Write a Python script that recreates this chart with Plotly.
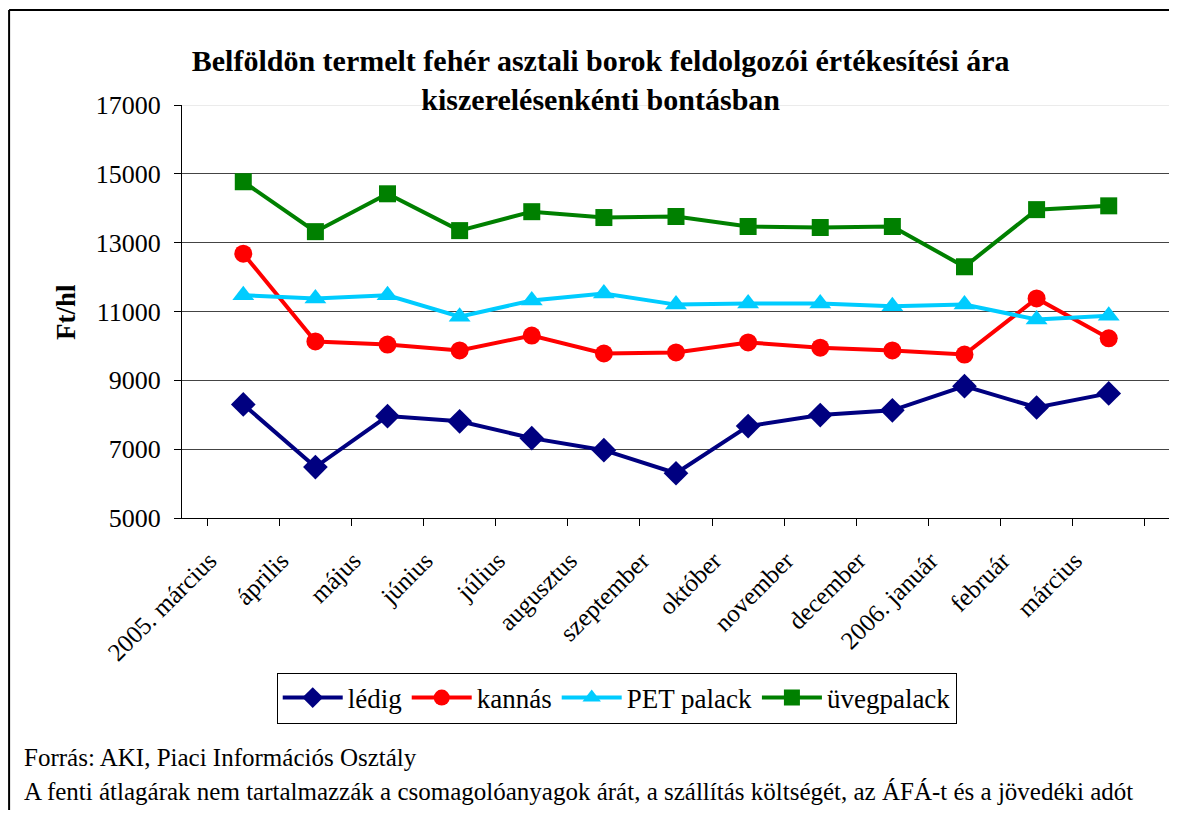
import plotly.graph_objects as go

# havi kategóriák
honapok = ["2005. március", "április", "május", "június", "július", "augusztus",
           "szeptember", "október", "november", "december", "2006. január",
           "február", "március"]

# Ft/hl értékek kiszerelésenként
ledig = [8300, 6480, 7960, 7810, 7320, 6970, 6300, 7670, 7990, 8130, 8830, 8210, 8620]
kannas = [12680, 10130, 10040, 9870, 10300, 9780, 9810, 10100, 9950, 9870, 9750, 11380, 10220]
pet_palack = [11470, 11380, 11470, 10850, 11320, 11520, 11200, 11230, 11230, 11150, 11200, 10770, 10880]
uvegpalack = [14770, 13320, 14420, 13350, 13900, 13730, 13760, 13470, 13440, 13470, 12300, 13960, 14070]

y_ticks = [5000, 7000, 9000, 11000, 13000, 15000, 17000]

series = [
    ("lédig", ledig, "#000080", "diamond", 19),
    ("kannás", kannas, "#FF0000", "circle", 18),
    ("PET palack", pet_palack, "#00CCFF", "triangle-up", 19),
    ("üvegpalack", uvegpalack, "#008000", "square", 17),
]

fig = go.Figure()
for name, vals, color, symbol, size in series:
    fig.add_trace(go.Scatter(
        x=honapok, y=vals, name=name, mode="lines+markers",
        line=dict(color=color, width=4),
        marker=dict(color=color, symbol=symbol, size=size),
    ))

serif = "Liberation Serif"

# the page body has an 8px margin, so the figure is shifted by 8px
fig.update_layout(
    width=1169, height=802,
    margin=dict(l=174, r=7, t=97, b=292),
    paper_bgcolor="white", plot_bgcolor="white",
    font=dict(family=serif, color="black", size=24),
    title=dict(
        text="<b>Belföldön termelt fehér asztali borok feldolgozói értékesítési ára<br>kiszerelésenkénti bontásban</b>",
        x=0.507, xanchor="center", y=0.921, yanchor="middle",
        font=dict(family=serif, size=30),
    ),
    showlegend=True,
    legend=dict(
        orientation="h", x=0.44, xanchor="center", y=-0.436, yanchor="middle",
        bordercolor="black", borderwidth=1, font=dict(family=serif, size=27),
        itemwidth=60,
    ),
    xaxis=dict(
        type="category", showgrid=False, showline=True, linecolor="black",
        ticks="outside", tickson="boundaries", ticklen=7, tickcolor="black",
        tickangle=-45, tickfont=dict(family=serif, size=25), automargin=False,
        ticklabelshift=-34, ticklabelstandoff=17,
    ),
    yaxis=dict(
        range=[5000, 17000], tickvals=y_ticks, tickformat="d", showgrid=True,
        gridcolor="#444444", gridwidth=1, showline=True, linecolor="black",
        ticks="outside", ticklen=7, tickcolor="black",
        tickfont=dict(family=serif, size=26), zeroline=False, automargin=False,
        ticklabelstandoff=8,
    ),
    annotations=[
        dict(text="<b>Ft/hl</b>", xref="paper", yref="paper", x=-0.118, y=0.5,
             textangle=-90, showarrow=False, xanchor="center", yanchor="middle",
             font=dict(family=serif, size=27)),
        dict(text="Forrás: AKI, Piaci Információs Osztály", xref="paper", yref="paper",
             x=-0.162, y=-0.579, xanchor="left", yanchor="middle", showarrow=False,
             font=dict(family=serif, size=25)),
        dict(text="A fenti átlagárak nem tartalmazzák a csomagolóanyagok árát, a szállítás költségét, az ÁFÁ-t és a jövedéki adót",
             xref="paper", yref="paper", x=-0.162, y=-0.663, xanchor="left",
             yanchor="middle", showarrow=False, font=dict(family=serif, size=25)),
    ],
    shapes=[
        # outer frame: only the top and left edges are visible in the original
        dict(type="line", xref="paper", yref="paper", x0=-0.175, x1=1.2,
             y0=1.23, y1=1.23, line=dict(color="black", width=2)),
        dict(type="line", xref="paper", yref="paper", x0=-0.175, x1=-0.175,
             y0=-0.9, y1=1.23, line=dict(color="black", width=2)),
        dict(type="line", xref="paper", yref="y", x0=0, x1=1, y0=17000, y1=17000,
             line=dict(color="#d8d8d8", width=1), layer="below"),
    ],
)

fig.write_html("out.html")
